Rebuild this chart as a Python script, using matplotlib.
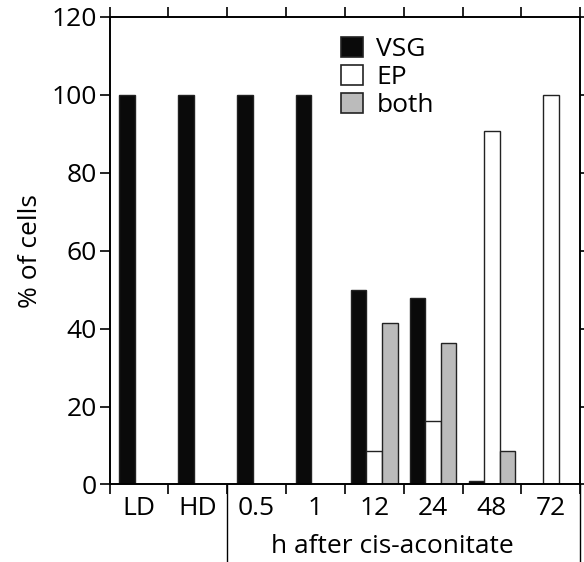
import matplotlib
matplotlib.use("Agg")
import matplotlib.pyplot as plt
from matplotlib.patches import Patch
from matplotlib.lines import Line2D
import matplotlib.transforms as mtransforms

categories = ["LD", "HD", "0.5", "1", "12", "24", "48", "72"]
vsg = [100, 100, 100, 100, 50, 47.8, 1.0, 0]
ep = [0, 0, 0, 0, 8.5, 16.2, 90.6, 100]
both = [0, 0, 0, 0, 41.4, 36.4, 8.5, 0]
series_names = ["VSG", "EP", "both"]
xlabel_text = "h after cis-aconitate"
ylabel_text = "% of cells"
yticks = [0, 20, 40, 60, 80, 100, 120]

plt.rcParams['font.family'] = ['Open Sans', 'DejaVu Sans']
FS = 19

fig = plt.figure(figsize=(5.84, 5.62), dpi=100)
ax = fig.add_axes([0.1875, 0.138, 0.806, 0.832])

w = 0.265
n = len(categories)
colors = ["#0a0a0a", "white", "#bbbbbb"]
# black bar offset: groups with a single bar had it placed slightly closer to centre
vsg_off = [-0.2 if (e == 0 and b == 0) else -w for e, b in zip(ep, both)]
for i in range(n):
    if vsg[i] > 0:
        ax.bar(i + 0.5 + vsg_off[i], vsg[i], w, color=colors[0], edgecolor="#222222", linewidth=1.0)
    if ep[i] > 0:
        ax.bar(i + 0.5, ep[i], w, color=colors[1], edgecolor="#222222", linewidth=1.0)
    if both[i] > 0:
        ax.bar(i + 0.5 + w, both[i], w, color=colors[2], edgecolor="#222222", linewidth=1.0)

ax.set_xlim(0, n)
ax.set_ylim(0, 120)
ax.set_yticks(yticks)
ax.set_yticklabels([str(t) for t in yticks], fontsize=FS)
ax.set_xticks(range(n + 1))
ax.set_xticklabels([])
ax.set_xticks([i + 0.5 for i in range(n)], minor=True)
ax.set_xticklabels(categories, minor=True, fontsize=FS)
ax.tick_params(axis='x', which='minor', length=0, pad=8)
ax.tick_params(axis='x', which='major', direction='out', length=7, width=1.2, top=True)
ax.tick_params(axis='y', which='major', direction='out', length=7, width=1.2, right=True, pad=2)
for s in ax.spines.values():
    s.set_linewidth(1.4)

ax.set_ylabel(ylabel_text, fontsize=FS, labelpad=6)

trans = mtransforms.blended_transform_factory(ax.transData, ax.transAxes)
for xv in [2, n]:
    ax.add_line(Line2D([xv, xv], [0, -0.2], transform=trans, color="black",
                       linewidth=1.0, clip_on=False))
ax.text((2 + n) / 2 - 0.2, -0.133, xlabel_text, transform=trans, ha='center', va='center', fontsize=FS)

handles = [Patch(facecolor=c, edgecolor="#222222", linewidth=1.2) for c in colors]
ax.legend(handles, series_names, loc='upper left', bbox_to_anchor=(0.47, 0.98),
          frameon=False, fontsize=FS, handlelength=0.83, handleheight=0.8,
          handletextpad=0.5, labelspacing=0.1, borderaxespad=0)

fig.savefig("out.png", dpi=100)
